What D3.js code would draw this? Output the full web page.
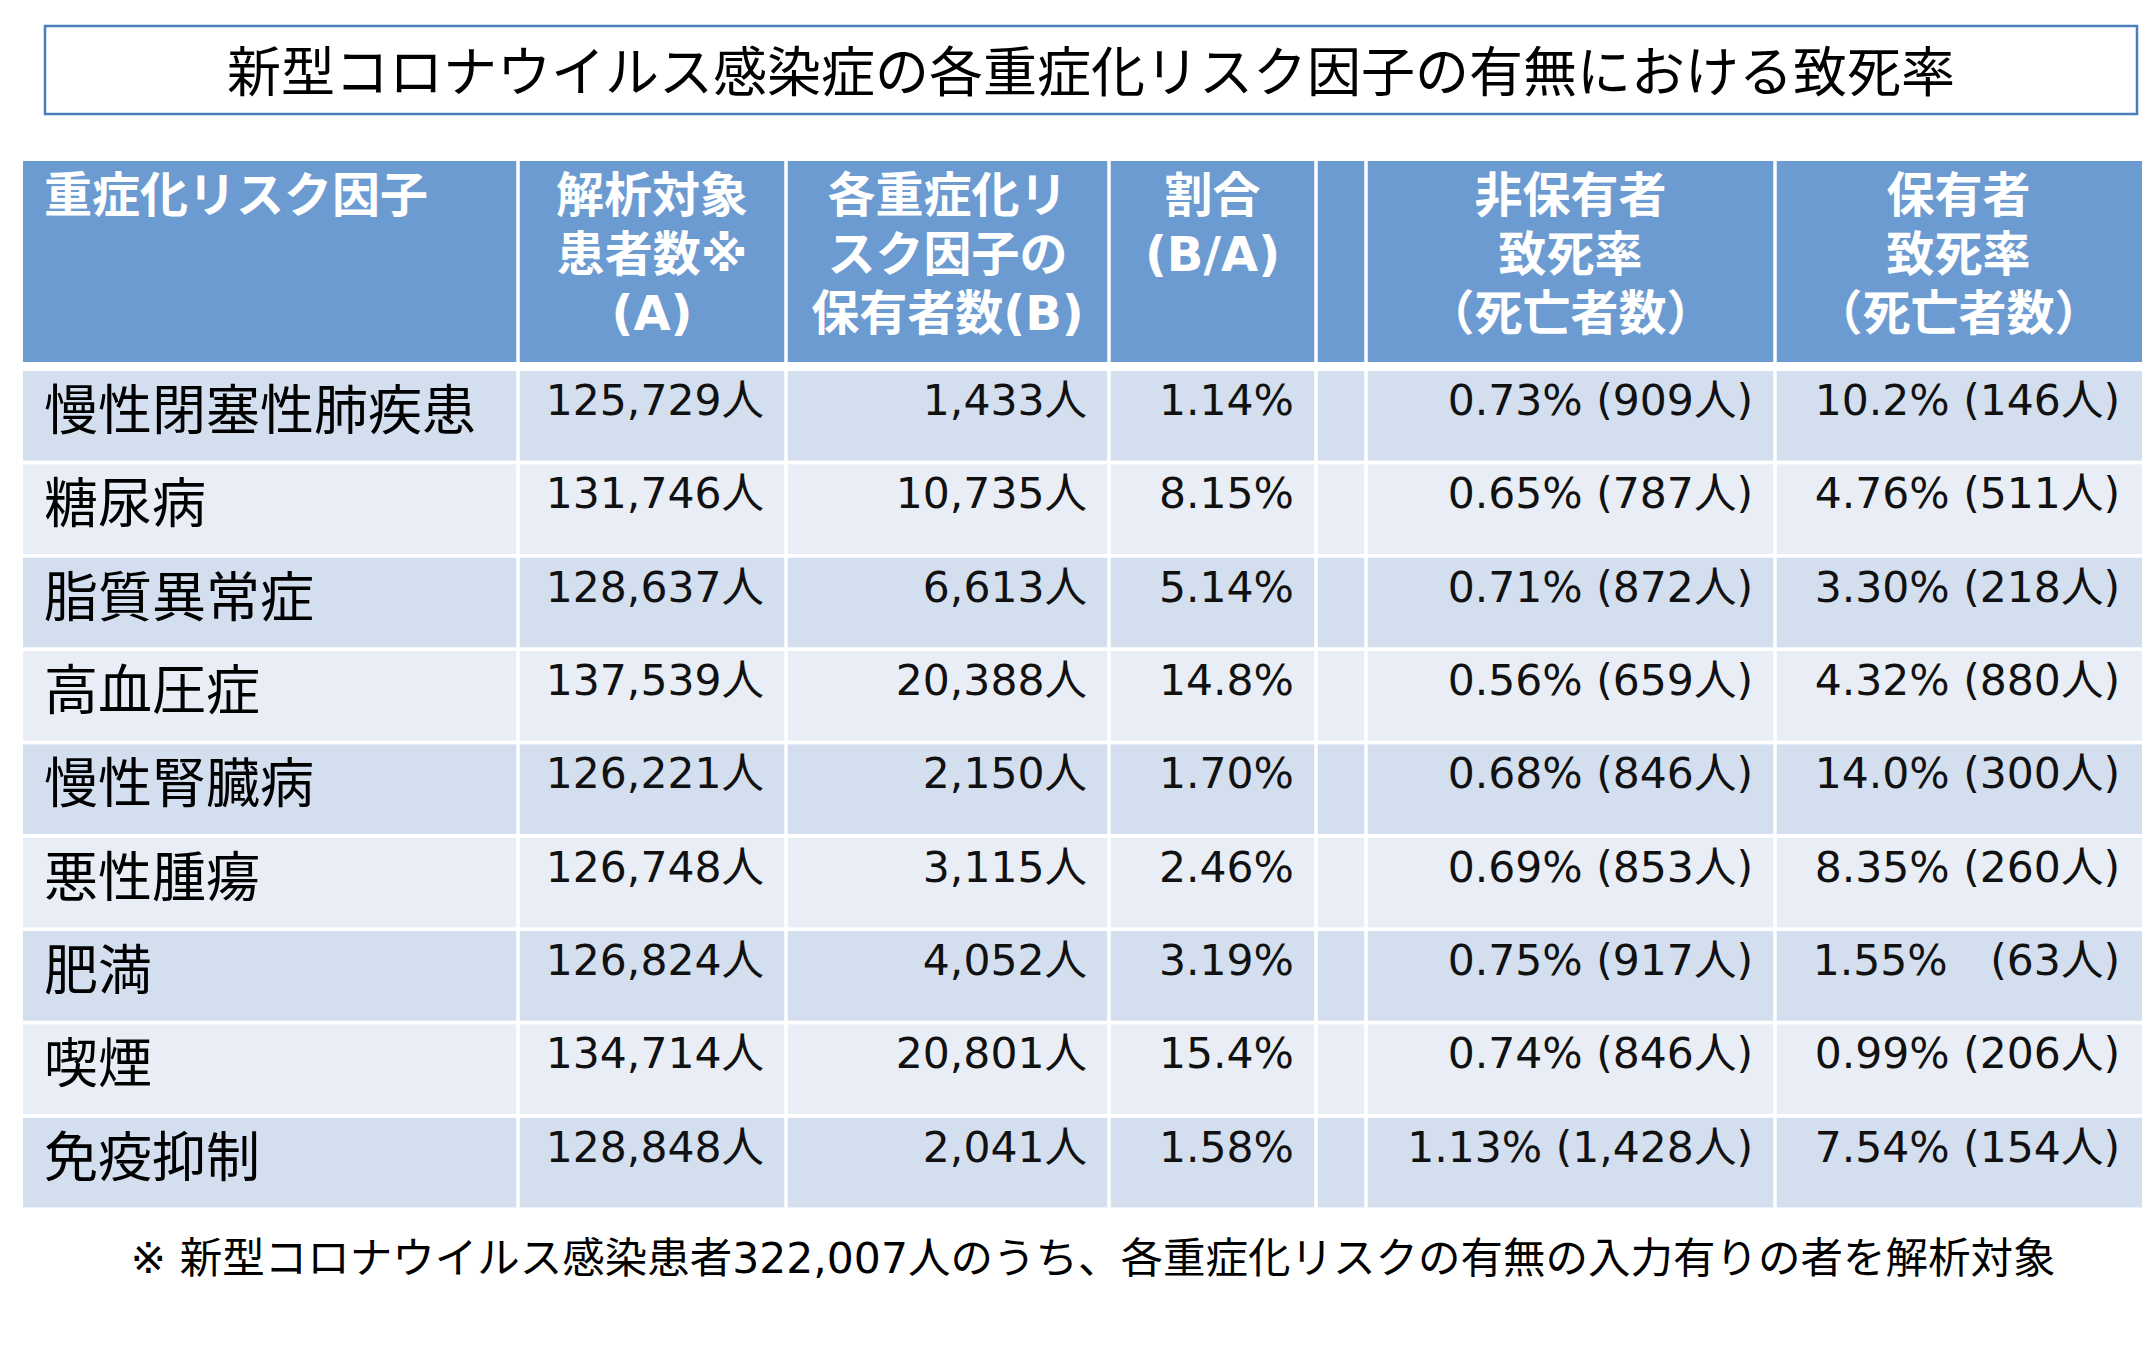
<!DOCTYPE html>
<html>
<head>
<meta charset="utf-8">
<script src="https://cdn.jsdelivr.net/npm/d3@7"></script>
<style>
  html, body { margin: 0; padding: 0; background: #ffffff; }
  svg { display: block; }
</style>
</head>
<body>
<svg id="chart" width="2146" height="1366"></svg>
<script>
// ---------------- DATA ----------------
const titleText = "新型コロナウイルス感染症の各重症化リスク因子の有無における致死率";
const footnoteText = "※ 新型コロナウイルス感染患者322,007人のうち、各重症化リスクの有無の入力有りの者を解析対象";

const headerLabels = [
  ["重症化リスク因子"],
  ["解析対象", "患者数※", "(A)"],
  ["各重症化リ", "スク因子の", "保有者数(B)"],
  ["割合", "(B/A)"],
  [],
  ["非保有者", "致死率", "（死亡者数）"],
  ["保有者", "致死率", "（死亡者数）"]
];

const factors = ["慢性閉塞性肺疾患", "糖尿病", "脂質異常症", "高血圧症", "慢性腎臓病", "悪性腫瘍", "肥満", "喫煙", "免疫抑制"];
const analyzedA = [125729, 131746, 128637, 137539, 126221, 126748, 126824, 134714, 128848];
const holdersB = [1433, 10735, 6613, 20388, 2150, 3115, 4052, 20801, 2041];
const ratioBA = [1.14, 8.15, 5.14, 14.8, 1.70, 2.46, 3.19, 15.4, 1.58];
const nonHolderRate = [0.73, 0.65, 0.71, 0.56, 0.68, 0.69, 0.75, 0.74, 1.13];
const nonHolderDeaths = [909, 787, 872, 659, 846, 853, 917, 846, 1428];
const holderRate = [10.2, 4.76, 3.30, 4.32, 14.0, 8.35, 1.55, 0.99, 7.54];
const holderDeaths = [146, 511, 218, 880, 300, 260, 63, 206, 154];

// ---------------- LAYOUT ----------------
const svg = d3.select("#chart");
const colEdges = [23, 518, 786, 1109, 1316, 1366, 1775, 2142];
const headerTop = 161, headerBottom = 362;
const bodyTop = 371, bodyBottom = 1207.4;

const headerFill = "#6C9BD1";
const rowFills = ["#D3DEEF", "#E9EEF6"];
const latinFont = "'DejaVu Sans', 'Noto Sans CJK JP', sans-serif";
const cjkFont = "'Noto Sans CJK JP', sans-serif";

const y = d3.scaleBand()
  .domain(factors)
  .range([bodyTop, bodyBottom])
  .paddingInner(0.04);

const fmtInt = d3.format(",");
const fmtPct = v => (v >= 10 ? d3.format(".1f")(v) : d3.format(".2f")(v)) + "%";
const fmtCount = n => fmtInt(n) + "人";
const fmtRateDeaths = (r, d) => fmtPct(r) + (d < 100 ? "\u3000" : " ") + "(" + fmtInt(d) + "人)";

// ---------------- TITLE ----------------
svg.append("rect")
  .attr("x", 45).attr("y", 26)
  .attr("width", 2092).attr("height", 88)
  .attr("fill", "#ffffff")
  .attr("stroke", "#4A7EBB")
  .attr("stroke-width", 2.5);

svg.append("text")
  .attr("x", 1091).attr("y", 92)
  .attr("text-anchor", "middle")
  .attr("font-family", cjkFont)
  .attr("font-size", 54)
  .attr("fill", "#000")
  .text(titleText);

// ---------------- HEADER ----------------
svg.append("rect")
  .attr("x", colEdges[0]).attr("y", headerTop)
  .attr("width", colEdges[colEdges.length - 1] - colEdges[0])
  .attr("height", headerBottom - headerTop)
  .attr("fill", headerFill);

// ---------------- BODY ROWS ----------------
svg.selectAll("rect.row")
  .data(factors)
  .join("rect")
  .attr("class", "row")
  .attr("x", colEdges[0])
  .attr("y", d => y(d))
  .attr("width", colEdges[colEdges.length - 1] - colEdges[0])
  .attr("height", y.bandwidth())
  .attr("fill", (d, i) => rowFills[i % 2]);

// vertical white separators
svg.selectAll("line.sep")
  .data(colEdges.slice(1, -1))
  .join("line")
  .attr("class", "sep")
  .attr("x1", d => d).attr("x2", d => d)
  .attr("y1", headerTop).attr("y2", bodyBottom)
  .attr("stroke", "#ffffff")
  .attr("stroke-width", 3.5);

// header texts
const headerG = svg.append("g");
headerLabels.forEach((lines, ci) => {
  const left = colEdges[ci], right = colEdges[ci + 1];
  const isFirst = ci === 0;
  lines.forEach((ln, li) => {
    headerG.append("text")
      .attr("x", isFirst ? left + 21 : (left + right) / 2)
      .attr("y", 212 + li * 59)
      .attr("text-anchor", isFirst ? "start" : "middle")
      .attr("font-family", latinFont)
      .attr("font-weight", "bold")
      .attr("font-size", 48)
      .attr("fill", "#ffffff")
      .text(ln);
  });
});

// row labels
svg.selectAll("text.factor")
  .data(factors)
  .join("text")
  .attr("class", "factor")
  .attr("x", colEdges[0] + 21)
  .attr("y", d => y(d) + 59)
  .attr("font-family", cjkFont)
  .attr("font-size", 54)
  .attr("fill", "#000")
  .text(d => d);

// numeric cells
const cellCols = [
  { col: 1, values: analyzedA.map(fmtCount) },
  { col: 2, values: holdersB.map(fmtCount) },
  { col: 3, values: ratioBA.map(fmtPct) },
  { col: 5, values: nonHolderRate.map((r, i) => fmtRateDeaths(r, nonHolderDeaths[i])) },
  { col: 6, values: holderRate.map((r, i) => fmtRateDeaths(r, holderDeaths[i])) }
];

cellCols.forEach(c => {
  svg.append("g").selectAll("text")
    .data(c.values)
    .join("text")
    .attr("x", colEdges[c.col + 1] - 22)
    .attr("y", (d, i) => y(factors[i]) + 44)
    .attr("text-anchor", "end")
    .attr("font-family", latinFont)
    .attr("font-size", 42.5)
    .attr("fill", "#111")
    .text(d => d);
});

// ---------------- FOOTNOTE ----------------
svg.append("text")
  .attr("x", 1093).attr("y", 1273)
  .attr("text-anchor", "middle")
  .attr("font-family", latinFont)
  .attr("font-size", 42.5)
  .attr("fill", "#000")
  .text(footnoteText);
</script>
</body>
</html>
